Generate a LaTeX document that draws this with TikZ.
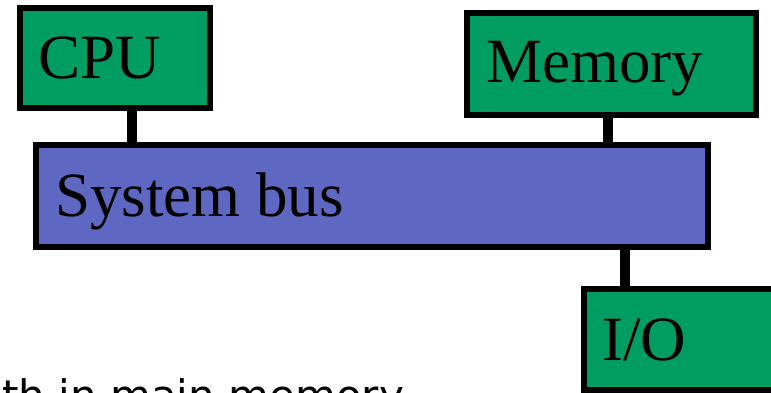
\documentclass[tikz,border=0pt]{standalone}
\usepackage{fontspec}
\setmainfont{Liberation Serif}
\newfontfamily\notefont{DejaVu Sans}
\definecolor{boxgreen}{RGB}{0,157,98}
\definecolor{busblue}{RGB}{94,103,193}
\begin{document}
\begin{tikzpicture}[x=1pt,y=-1pt,
  unit/.style={draw=black,line width=6pt,fill=boxgreen,rectangle,inner sep=0pt,outer sep=0pt,anchor=north west},
  bus/.style={draw=black,line width=6pt,fill=busblue,rectangle,inner sep=0pt,outer sep=0pt,anchor=north west},
  lbl/.style={inner sep=0pt,anchor=base west,font=\fontsize{63}{63}\selectfont},
  link/.style={line width=10pt,draw=black}]
\useasboundingbox (0,0) rectangle (771,393);
\clip (0,0) rectangle (771,393);
\node[unit,minimum width=190pt,minimum height=100pt] (cpu) at (20,8) {};
\node[unit,minimum width=289pt,minimum height=102pt] (mem) at (467,13) {};
\node[bus,minimum width=672pt,minimum height=102pt] (sysbus) at (36,145) {};
\node[unit,minimum width=220pt,minimum height=101pt] (io) at (584,289) {};
\node[lbl] (cput) at (38,79) {CPU};
\node[lbl] (memt) at (486,83) {Memory};
\node[lbl] (bust) at (55,216) {System bus};
\node[lbl] (iot) at (602,360) {I/O};
\coordinate (c1) at (132,111);
\coordinate (c2) at (132,142);
\coordinate (m1) at (608,118);
\coordinate (m2) at (608,142);
\coordinate (i1) at (625,250);
\coordinate (i2) at (625,286);
\draw[link] (c1) -- (c2);
\draw[link] (m1) -- (m2);
\draw[link] (i1) -- (i2);
\node[inner sep=0pt,anchor=base west,font=\notefont\fontsize{42}{42}\selectfont] (note) at (2,410) {th in main memory};
\end{tikzpicture}
\end{document}
